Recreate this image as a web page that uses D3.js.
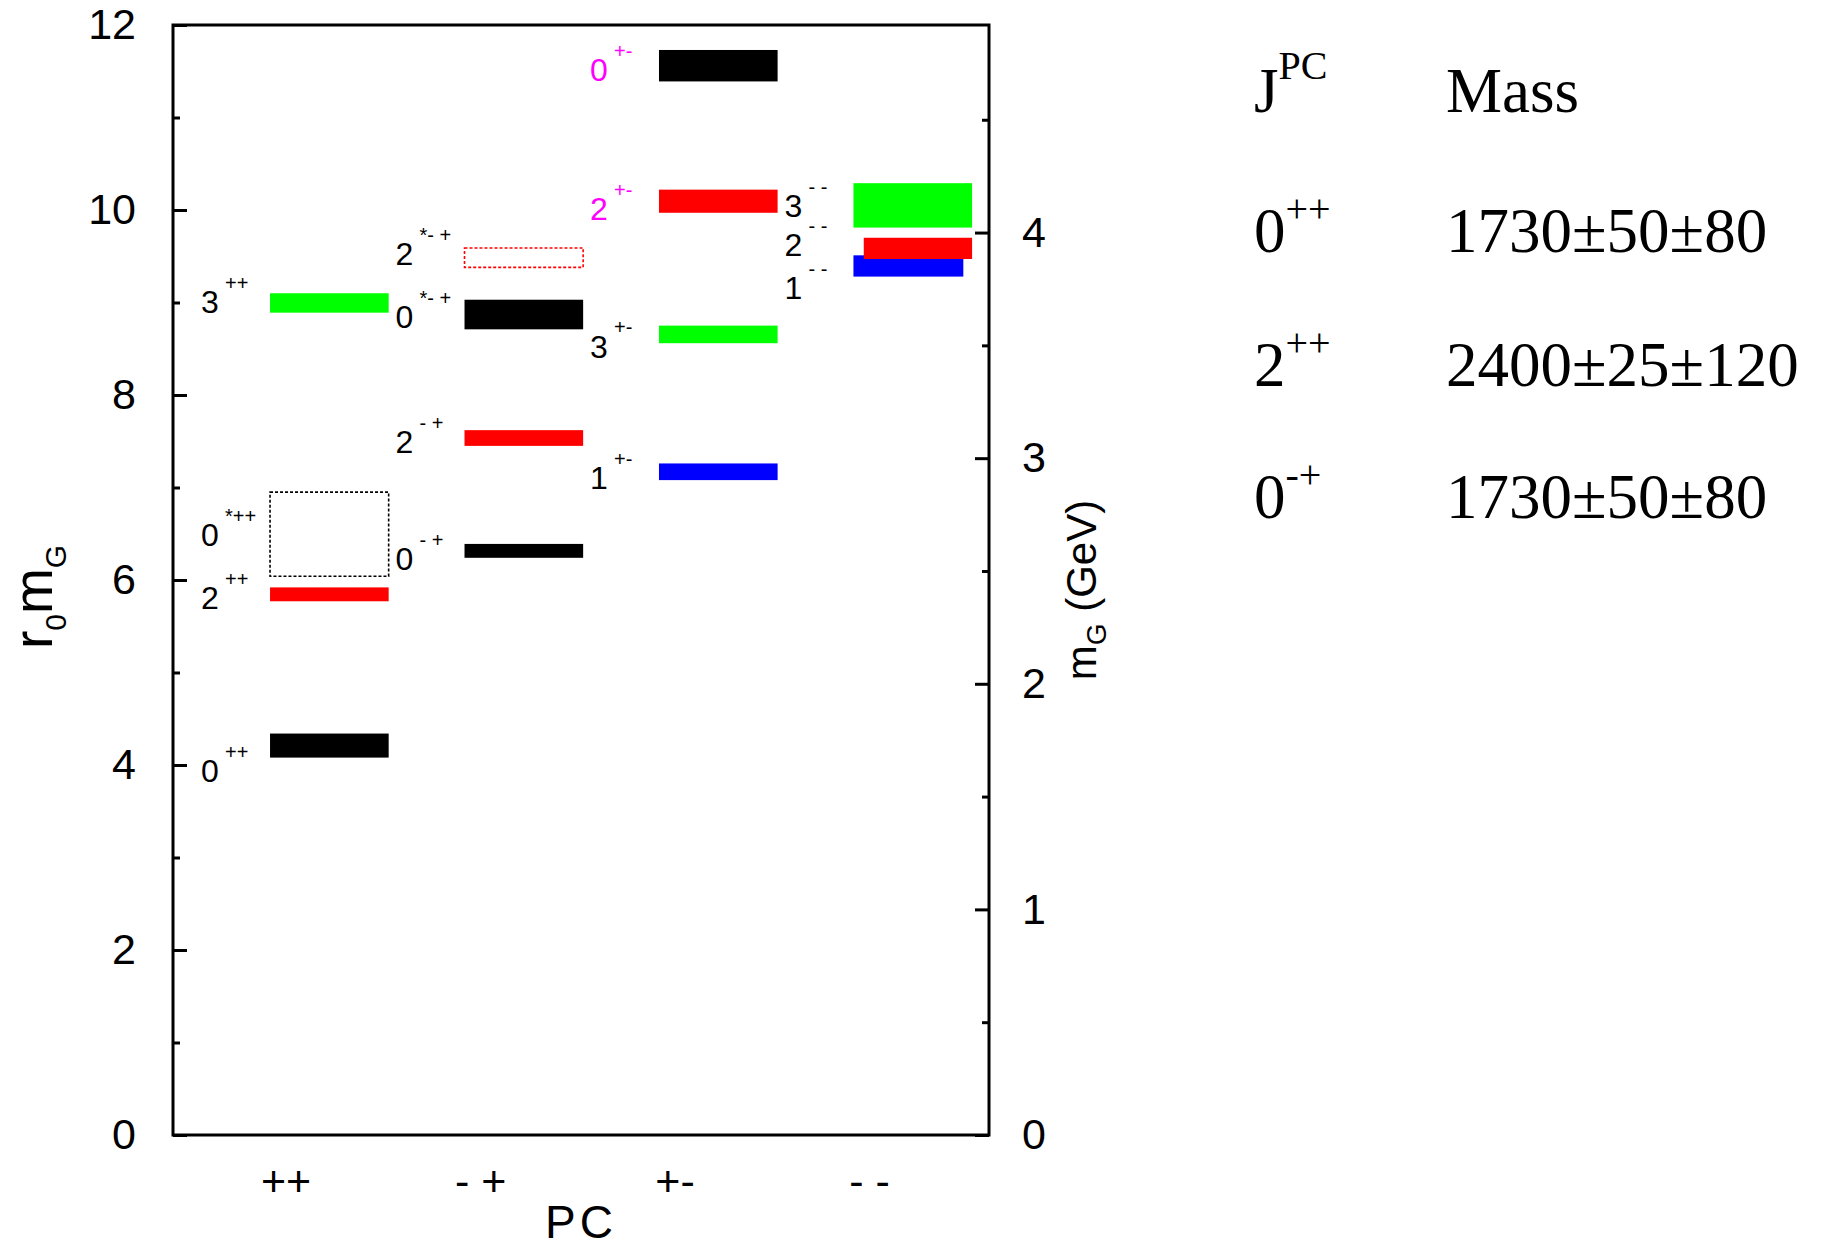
<!DOCTYPE html>
<html>
<head>
<meta charset="utf-8">
<script src="https://cdn.jsdelivr.net/npm/d3@7"></script>
<style>
  body { margin: 0; background: #fff; }
  svg text { font-family: "Liberation Sans", Arial, sans-serif; fill: #000; }
  .legend text { font-family: "Liberation Serif", "Times New Roman", serif; }
</style>
</head>
<body>
<svg width="1824" height="1248"></svg>
<script>
// PC sectors along the x axis
var pcLabels = ["++", "- +", "+-", "- -"];
var pcSup = ["++", "- +", "+-", "- -"];

// glueball states (r0 * mG), one entry per state
var statePC      = [1, 1, 1, 1,   2, 2, 2, 2,   3, 3, 3, 3,   4, 4, 4];
var stateJ       = [3, 0, 2, 0,   2, 0, 2, 0,   0, 2, 3, 1,   3, 1, 2];
var stateExcited = [0, 1, 0, 0,   1, 1, 0, 0,   0, 0, 0, 0,   0, 0, 0];
var stateTentative = [0, 1, 0, 0, 1, 0, 0, 0,   0, 0, 0, 0,   0, 0, 0];
var massLo       = [8.89, 6.04, 5.77, 4.08,   9.38, 8.71, 7.45, 6.24,   11.39, 9.97, 8.56, 7.08,   9.81, 9.28, 9.47];
var massHi       = [9.10, 6.95, 5.92, 4.34,   9.59, 9.03, 7.62, 6.39,   11.73, 10.22, 8.75, 7.26,  10.29, 9.51, 9.70];
var labelAt      = [9.01, 6.49, 5.81, 3.94,   9.525, 8.85, 7.495, 6.233, 11.52, 10.02, 8.53, 7.106, 10.05, 9.166, 9.63];

// table on the right
var tableJ = ["0", "2", "0"];
var tablePC = ["++", "++", "-+"];
var tableMass = ["1730\u00b150\u00b180", "2400\u00b125\u00b1120", "1730\u00b150\u00b180"];

var r0inv = 0.41; // GeV

var svg = d3.select("svg"),
    margin = {top: 25, right: 835, bottom: 113, left: 173},
    width = +svg.attr("width") - margin.left - margin.right,
    height = +svg.attr("height") - margin.top - margin.bottom,
    g = svg.append("g").attr("transform", "translate(" + margin.left + "," + margin.top + ")");

var x = d3.scaleLinear().domain([0.421, 4.617]).range([0, width]);
var y = d3.scaleLinear().domain([0, 12]).range([height, 0]);
var yR = d3.scaleLinear().domain([0, 12 * r0inv]).range([height, 0]);

var colorByJ = ["#000000", "#0000ff", "#ff0000", "#00ff00"];
function isExotic(i) {
  var pc = pcSup[statePC[i] - 1];
  return (pc == "+-" && (stateJ[i] == 0 || stateJ[i] == 2));
}
// horizontal extent of a level, relative to its PC sector
function span(i) {
  if (statePC[i] == 4 && stateJ[i] == 2) return [-0.027, 0.53];
  if (statePC[i] == 4 && stateJ[i] == 1) return [-0.08, 0.485];
  return [-0.08, 0.53];
}

function styleAxis(sel, fs) {
  sel.select(".domain").remove();
  sel.attr("font-size", fs).attr("font-family", null);
  sel.selectAll("line").attr("stroke", "#000").attr("stroke-width", 3);
  sel.selectAll("text").attr("fill", "#000");
}

// left axis
g.append("g")
    .call(d3.axisLeft(y).tickValues(d3.range(0, 13, 2)).tickSize(-14).tickPadding(37))
    .call(styleAxis, 43);
g.append("g")
    .call(d3.axisLeft(y).tickValues(d3.range(1, 12, 2)).tickSize(-7).tickFormat(""))
    .call(styleAxis, 43);

// right axis in GeV
g.append("g")
    .attr("transform", "translate(" + width + ",0)")
    .call(d3.axisRight(yR).tickValues([0, 1, 2, 3, 4]).tickFormat(d3.format("d")).tickSize(-14).tickPadding(33))
    .call(styleAxis, 43);
g.append("g")
    .attr("transform", "translate(" + width + ",0)")
    .call(d3.axisRight(yR).tickValues([0.5, 1.5, 2.5, 3.5, 4.5]).tickSize(-7).tickFormat(""))
    .call(styleAxis, 43);

// bottom labels
g.append("g")
    .attr("transform", "translate(0," + height + ")")
    .call(d3.axisBottom(x).tickValues([1, 2, 3, 4]).tickFormat(function(d) { return pcLabels[d - 1]; })
      .tickSize(0).tickPadding(30))
    .call(styleAxis, 43);

// frame
g.append("rect")
    .attr("width", width)
    .attr("height", height)
    .attr("fill", "none")
    .attr("stroke", "#000")
    .attr("stroke-width", 3);

var idx = d3.range(statePC.length);

// levels
g.selectAll(".level")
    .data(idx)
  .enter().append("rect")
    .attr("class", "level")
    .attr("x", function(i) { return x(statePC[i] + span(i)[0]); })
    .attr("width", function(i) { return x(statePC[i] + span(i)[1]) - x(statePC[i] + span(i)[0]); })
    .attr("y", function(i) { return y(massHi[i]); })
    .attr("height", function(i) { return y(massLo[i]) - y(massHi[i]); })
    .attr("fill", function(i) { return stateTentative[i] ? "none" : colorByJ[stateJ[i]]; })
    .attr("stroke", function(i) { return stateTentative[i] ? colorByJ[stateJ[i]] : "none"; })
    .attr("stroke-width", 1.6)
    .attr("stroke-dasharray", function(i) { return stateTentative[i] ? "3 2" : null; });

// level labels
var lab = g.selectAll(".lab")
    .data(idx)
  .enter().append("g")
    .attr("class", "lab")
    .attr("transform", function(i) { return "translate(" + x(statePC[i] - 0.435) + "," + y(labelAt[i]) + ")"; });

lab.append("text")
    .attr("dy", "0.36em")
    .attr("font-size", 32)
    .style("fill", function(i) { return isExotic(i) ? "#ff00ff" : "#000"; })
    .text(function(i) { return stateJ[i]; });

lab.append("text")
    .attr("x", 24)
    .attr("y", -11.5)
    .attr("font-size", 20)
    .style("fill", function(i) { return isExotic(i) ? "#ff00ff" : "#000"; })
    .text(function(i) { return (stateExcited[i] ? "*" : "") + pcSup[statePC[i] - 1]; });

// axis titles
var yl = svg.append("text")
    .attr("transform", "translate(52," + (margin.top + 572) + ") rotate(-90)")
    .attr("text-anchor", "middle")
    .attr("font-size", 55);
yl.append("tspan").text("r");
yl.append("tspan").attr("font-size", 30).attr("dy", 14).text("0");
yl.append("tspan").attr("dy", -14).text("m");
yl.append("tspan").attr("font-size", 30).attr("dy", 14).text("G");

var yr = svg.append("text")
    .attr("transform", "translate(1096," + (margin.top + 565) + ") rotate(-90)")
    .attr("text-anchor", "middle")
    .attr("font-size", 42);
yr.append("tspan").text("m");
yr.append("tspan").attr("font-size", 28).attr("dy", 10).text("G");
yr.append("tspan").attr("dy", -10).text(" (GeV)");

svg.append("text")
    .attr("x", margin.left + width / 2)
    .attr("y", 1238)
    .attr("text-anchor", "middle")
    .attr("font-size", 46)
    .attr("letter-spacing", 4)
    .text("PC");

// table
var legend = svg.append("g").attr("class", "legend");
var colJ = 1254, colMass = 1446, rowY = [252, 386, 518];

var head = legend.append("text").attr("x", colJ).attr("y", 112).attr("font-size", 63);
head.append("tspan").text("J");
head.append("tspan").attr("font-size", 40).attr("dy", -33).text("PC");
legend.append("text").attr("x", colMass).attr("y", 112).attr("font-size", 63).text("Mass");

tableJ.forEach(function(j, k) {
  var t = legend.append("text").attr("x", colJ).attr("y", rowY[k]).attr("font-size", 63);
  t.append("tspan").text(j);
  t.append("tspan").attr("font-size", 40).attr("dy", -30).text(tablePC[k]);
  legend.append("text").attr("x", colMass).attr("y", rowY[k]).attr("font-size", 63).text(tableMass[k]);
});
</script>
</body>
</html>
